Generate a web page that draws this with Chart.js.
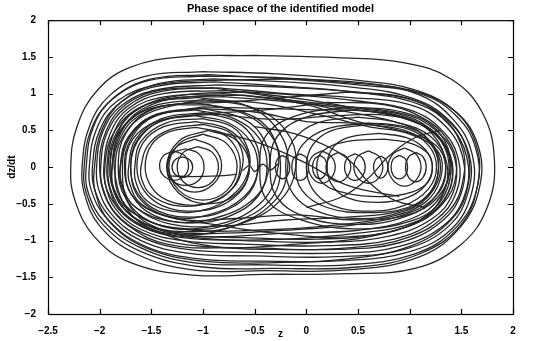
<!DOCTYPE html>
<html>
<head>
<meta charset="utf-8">
<script src="https://cdn.jsdelivr.net/npm/chart.js@4"></script>
<style>
  html, body { margin: 0; padding: 0; background: #fff; }
  #wrap { width: 536px; height: 341px; }
</style>
</head>
<body>
<div id="wrap"><canvas id="phaseChart"></canvas></div>
<script>
// ticks
const zTicks = [-2.5, -2, -1.5, -1, -0.5, 0, 0.5, 1, 1.5, 2];
const vTicks = [-2, -1.5, -1, -0.5, 0, 0.5, 1, 1.5, 2];

// outer orbits round both wells, [z, dz/dt]
const outer1 = [[-2.28,0],[-2.22,0.55],[-2.02,1.05],[-1.7,1.36],[-1.2,1.5],[-0.5,1.52],[0.3,1.49],[0.95,1.42],[1.4,1.2],[1.7,0.75],[1.82,0.1],[1.75,-0.55],[1.5,-1.05],[1.05,-1.38],[0.4,-1.45],[-0.4,-1.46],[-1.1,-1.47],[-1.7,-1.3],[-2.05,-0.95],[-2.24,-0.45],[-2.28,0]];
const outer2 = [[-2.17,0],[-2.1,0.55],[-1.9,0.98],[-1.55,1.24],[-1.0,1.3],[-0.3,1.27],[0.5,1.18],[1.05,1.05],[1.45,0.75],[1.66,0.3],[1.68,-0.25],[1.5,-0.8],[1.1,-1.22],[0.4,-1.4],[-0.4,-1.41],[-1.1,-1.4],[-1.65,-1.18],[-2.0,-0.8],[-2.15,-0.35],[-2.17,0]];
const outer3 = [[-2.13,0],[-2.06,0.55],[-1.86,0.95],[-1.5,1.2],[-0.95,1.26],[-0.2,1.2],[0.5,1.12],[1.1,1.0],[1.45,0.7],[1.64,0.25],[1.65,-0.3],[1.45,-0.82],[1.05,-1.18],[0.4,-1.33],[-0.4,-1.33],[-1.1,-1.3],[-1.6,-1.1],[-1.95,-0.75],[-2.11,-0.35],[-2.13,0]];
const outer4 = [[-2.1,0],[-2.03,0.52],[-1.83,0.9],[-1.45,1.12],[-0.9,1.18],[-0.1,1.2],[0.6,1.14],[1.1,0.98],[1.42,0.65],[1.6,0.2],[1.6,-0.35],[1.4,-0.85],[1.0,-1.15],[0.4,-1.27],[-0.4,-1.28],[-1.1,-1.24],[-1.6,-1.05],[-1.93,-0.7],[-2.08,-0.32],[-2.1,0]];
const outer5 = [[-2.07,0],[-2.0,0.5],[-1.8,0.88],[-1.45,1.1],[-0.9,1.16],[-0.2,1.1],[0.5,1.02],[1.05,0.9],[1.38,0.62],[1.57,0.2],[1.57,-0.32],[1.38,-0.8],[0.95,-1.12],[0.3,-1.22],[-0.5,-1.21],[-1.15,-1.17],[-1.6,-1.0],[-1.9,-0.68],[-2.05,-0.3],[-2.07,0]];
const outer6 = [[-2.03,0],[-1.97,0.48],[-1.78,0.85],[-1.42,1.06],[-0.85,1.12],[-0.1,1.08],[0.6,1.0],[1.1,0.85],[1.38,0.58],[1.55,0.15],[1.54,-0.35],[1.34,-0.78],[0.9,-1.08],[0.3,-1.17],[-0.5,-1.16],[-1.15,-1.12],[-1.6,-0.95],[-1.88,-0.65],[-2.01,-0.3],[-2.03,0]];
const outer7 = [[-1.99,0],[-1.93,0.46],[-1.74,0.82],[-1.4,1.03],[-0.85,1.08],[-0.2,1.0],[0.4,0.95],[1.0,0.85],[1.33,0.58],[1.51,0.15],[1.5,-0.35],[1.3,-0.75],[0.9,-1.03],[0.3,-1.12],[-0.5,-1.1],[-1.15,-1.06],[-1.58,-0.9],[-1.85,-0.62],[-1.97,-0.28],[-1.99,0]];
const outer8 = [[-1.96,0],[-1.9,0.45],[-1.72,0.8],[-1.38,1.0],[-0.8,1.04],[-0.1,0.98],[0.5,0.9],[1.0,0.78],[1.3,0.52],[1.47,0.12],[1.45,-0.35],[1.25,-0.72],[0.85,-0.98],[0.2,-1.07],[-0.6,-1.05],[-1.2,-1.0],[-1.6,-0.85],[-1.84,-0.58],[-1.94,-0.27],[-1.96,0]];
const outer9 = [[-1.93,0],[-1.87,0.44],[-1.7,0.78],[-1.36,0.96],[-0.8,1.0],[-0.2,0.92],[0.4,0.82],[0.95,0.72],[1.27,0.48],[1.44,0.1],[1.42,-0.35],[1.22,-0.7],[0.8,-0.94],[0.2,-1.02],[-0.6,-1.0],[-1.2,-0.96],[-1.58,-0.82],[-1.82,-0.56],[-1.91,-0.26],[-1.93,0]];
const outer10 = [[-1.9,0],[-1.84,0.42],[-1.67,0.75],[-1.34,0.93],[-0.8,0.96],[-0.1,0.88],[0.5,0.78],[0.95,0.66],[1.25,0.44],[1.4,0.08],[1.38,-0.33],[1.18,-0.66],[0.75,-0.9],[0.1,-0.98],[-0.6,-0.96],[-1.2,-0.92],[-1.56,-0.78],[-1.79,-0.53],[-1.88,-0.25],[-1.9,0]];
const outer11 = [[-2.0,0],[-1.94,0.48],[-1.75,0.85],[-1.4,1.05],[-0.9,1.08],[-0.3,0.95],[0.3,0.78],[0.85,0.62],[1.2,0.42],[1.36,0.05],[1.32,-0.38],[1.1,-0.72],[0.6,-0.95],[-0.1,-1.05],[-0.8,-1.1],[-1.35,-1.05],[-1.7,-0.82],[-1.92,-0.48],[-2.0,0]];
const outer12 = [[-1.86,0],[-1.8,0.4],[-1.62,0.7],[-1.3,0.85],[-0.8,0.88],[-0.2,0.95],[0.4,1.02],[0.95,0.95],[1.3,0.7],[1.5,0.3],[1.52,-0.15],[1.38,-0.6],[1.0,-0.95],[0.4,-1.1],[-0.3,-1.12],[-0.9,-1.08],[-1.4,-0.9],[-1.72,-0.6],[-1.86,0]];
const outer13 = [[-2.05,0],[-1.98,0.5],[-1.78,0.9],[-1.42,1.14],[-0.9,1.2],[-0.2,1.16],[0.5,1.08],[1.0,0.95],[1.35,0.68],[1.55,0.25],[1.56,-0.28],[1.4,-0.72],[1.0,-1.08],[0.4,-1.25],[-0.3,-1.3],[-1.0,-1.28],[-1.55,-1.1],[-1.9,-0.75],[-2.04,-0.35],[-2.05,0]];
const outer14 = [[-2.15,0],[-2.08,0.52],[-1.88,0.92],[-1.52,1.18],[-1.0,1.24],[-0.3,1.22],[0.4,1.15],[1.0,1.05],[1.42,0.78],[1.64,0.32],[1.66,-0.22],[1.5,-0.78],[1.1,-1.18],[0.5,-1.36],[-0.3,-1.38],[-1.0,-1.36],[-1.6,-1.15],[-1.97,-0.78],[-2.13,-0.35],[-2.15,0]];

// orbits that cross from one well to the other
const cross1 = [[-1.88,0],[-1.8,0.45],[-1.6,0.78],[-1.2,0.95],[-0.6,0.98],[0.0,0.85],[0.5,0.62],[0.95,0.48],[1.25,0.3],[1.35,0],[1.28,-0.35],[1.0,-0.62],[0.5,-0.78],[-0.1,-0.85],[-0.8,-0.9],[-1.3,-0.88],[-1.65,-0.7],[-1.84,-0.4],[-1.88,0]];
const cross2 = [[-1.85,0],[-1.78,0.4],[-1.55,0.72],[-1.1,0.9],[-0.5,0.88],[0.1,0.72],[0.6,0.55],[1.0,0.45],[1.28,0.2],[1.3,-0.15],[1.15,-0.48],[0.8,-0.68],[0.2,-0.8],[-0.5,-0.86],[-1.1,-0.86],[-1.55,-0.72],[-1.8,-0.42],[-1.85,0]];
const cross3 = [[-1.75,0],[-1.68,0.38],[-1.45,0.62],[-1.0,0.72],[-0.4,0.78],[0.2,0.88],[0.75,0.85],[1.15,0.65],[1.4,0.3],[1.45,-0.1],[1.32,-0.5],[1.0,-0.8],[0.4,-0.95],[-0.3,-0.9],[-0.9,-0.78],[-1.4,-0.65],[-1.68,-0.4],[-1.75,0]];
const cross4 = [[-1.7,0],[-1.62,0.4],[-1.35,0.65],[-0.85,0.72],[-0.3,0.65],[0.3,0.7],[0.8,0.7],[1.2,0.52],[1.38,0.15],[1.33,-0.3],[1.05,-0.62],[0.5,-0.72],[-0.1,-0.65],[-0.7,-0.7],[-1.25,-0.7],[-1.6,-0.45],[-1.7,0]];
const cross5 = [[-1.92,0],[-1.84,0.46],[-1.62,0.8],[-1.2,0.98],[-0.6,1.02],[0.0,0.92],[0.5,0.8],[0.95,0.7],[1.25,0.45],[1.38,0.05],[1.3,-0.4],[1.02,-0.7],[0.5,-0.86],[-0.2,-0.9],[-0.9,-0.95],[-1.4,-0.9],[-1.72,-0.68],[-1.88,-0.36],[-1.92,0]];
const cross6 = [[-1.8,0],[-1.72,0.4],[-1.5,0.68],[-1.05,0.8],[-0.5,0.75],[0.0,0.62],[0.5,0.6],[0.95,0.55],[1.2,0.35],[1.28,0],[1.18,-0.38],[0.9,-0.6],[0.4,-0.68],[-0.2,-0.72],[-0.8,-0.8],[-1.3,-0.78],[-1.65,-0.55],[-1.79,-0.25],[-1.8,0]];
const cross7 = [[-1.78,0],[-1.7,0.42],[-1.45,0.7],[-1.0,0.82],[-0.45,0.8],[0.1,0.78],[0.6,0.76],[1.05,0.62],[1.32,0.35],[1.42,-0.05],[1.33,-0.45],[1.05,-0.75],[0.5,-0.9],[-0.2,-0.98],[-0.9,-0.98],[-1.4,-0.85],[-1.7,-0.55],[-1.78,0]];

// left well
const left1 = [[-1.82,0],[-1.75,0.45],[-1.5,0.78],[-1.1,0.88],[-0.65,0.75],[-0.35,0.45],[-0.25,0],[-0.35,-0.45],[-0.7,-0.75],[-1.1,-0.85],[-1.5,-0.75],[-1.75,-0.42],[-1.82,0]];
const left2 = [[-1.76,0],[-1.69,0.4],[-1.46,0.7],[-1.08,0.78],[-0.7,0.66],[-0.45,0.38],[-0.38,0],[-0.47,-0.4],[-0.75,-0.67],[-1.1,-0.76],[-1.47,-0.66],[-1.69,-0.38],[-1.76,0]];
const left3 = [[-1.7,0],[-1.63,0.36],[-1.42,0.62],[-1.08,0.7],[-0.75,0.6],[-0.53,0.33],[-0.47,0],[-0.55,-0.35],[-0.8,-0.6],[-1.1,-0.68],[-1.43,-0.6],[-1.64,-0.34],[-1.7,0]];
const left4 = [[-1.64,0],[-1.58,0.33],[-1.38,0.55],[-1.07,0.62],[-0.78,0.53],[-0.6,0.3],[-0.55,0],[-0.62,-0.3],[-0.82,-0.52],[-1.1,-0.6],[-1.4,-0.52],[-1.58,-0.3],[-1.64,0]];
const left5 = [[-1.56,0],[-1.5,0.3],[-1.33,0.48],[-1.07,0.54],[-0.82,0.46],[-0.68,0.26],[-0.64,0],[-0.7,-0.26],[-0.86,-0.45],[-1.1,-0.52],[-1.35,-0.45],[-1.5,-0.27],[-1.56,0]];
const left6 = [[-1.9,0.05],[-1.8,0.5],[-1.5,0.82],[-1.0,0.92],[-0.5,0.8],[-0.2,0.5],[-0.1,0.05],[-0.25,-0.45],[-0.65,-0.78],[-1.1,-0.88],[-1.55,-0.78],[-1.82,-0.45],[-1.9,0.05]];
const left7 = [[-1.95,0],[-1.85,0.5],[-1.55,0.85],[-1.05,0.95],[-0.55,0.82],[-0.25,0.45],[-0.18,0],[-0.3,-0.45],[-0.7,-0.8],[-1.2,-0.92],[-1.65,-0.75],[-1.9,-0.4],[-1.95,0]];
const left8 = [[-1.88,0],[-1.8,0.48],[-1.5,0.8],[-0.95,0.85],[-0.5,0.68],[-0.3,0.35],[-0.28,-0.05],[-0.45,-0.5],[-0.85,-0.78],[-1.3,-0.82],[-1.7,-0.6],[-1.86,-0.3],[-1.88,0]];
const left9 = [[-1.8,0.02],[-1.72,0.42],[-1.45,0.72],[-1.0,0.8],[-0.6,0.65],[-0.4,0.35],[-0.36,0],[-0.5,-0.42],[-0.9,-0.7],[-1.3,-0.74],[-1.65,-0.55],[-1.78,-0.25],[-1.8,0.02]];
const left10 = [[-1.72,0],[-1.65,0.38],[-1.4,0.66],[-1.0,0.74],[-0.68,0.62],[-0.5,0.36],[-0.46,0],[-0.6,-0.4],[-0.95,-0.65],[-1.3,-0.68],[-1.6,-0.5],[-1.71,-0.22],[-1.72,0]];
const left11 = [[-1.66,0],[-1.6,0.35],[-1.36,0.6],[-1.0,0.66],[-0.72,0.55],[-0.58,0.3],[-0.55,0],[-0.68,-0.34],[-0.98,-0.58],[-1.3,-0.6],[-1.55,-0.45],[-1.65,-0.2],[-1.66,0]];
const left12 = [[-1.6,0],[-1.52,0.32],[-1.3,0.52],[-1.0,0.58],[-0.75,0.48],[-0.63,0.25],[-0.62,0],[-0.72,-0.3],[-0.98,-0.5],[-1.28,-0.52],[-1.5,-0.38],[-1.59,-0.18],[-1.6,0]];

// circles near the bottom of the left well
const ring1 = [[-1.1,0],[-1.13,0.1],[-1.2,0.14],[-1.27,0.1],[-1.3,0],[-1.27,-0.1],[-1.2,-0.14],[-1.13,-0.1],[-1.1,0]];
const ring2 = [[-0.99,0],[-1.04,0.18],[-1.17,0.25],[-1.3,0.18],[-1.35,0],[-1.3,-0.18],[-1.17,-0.25],[-1.04,-0.18],[-0.99,0]];
const ring3 = [[-0.82,0.02],[-0.9,0.27],[-1.08,0.38],[-1.26,0.27],[-1.34,0.02],[-1.26,-0.23],[-1.08,-0.34],[-0.9,-0.23],[-0.82,0.02]];
const ring4 = [[-0.67,0],[-0.77,0.32],[-1.0,0.45],[-1.23,0.32],[-1.33,0],[-1.23,-0.32],[-1.0,-0.45],[-0.77,-0.32],[-0.67,0]];
const ring5 = [[-0.55,0],[-0.67,0.36],[-0.95,0.5],[-1.23,0.36],[-1.35,0],[-1.23,-0.36],[-0.95,-0.5],[-0.67,-0.36],[-0.55,0]];
const ring6 = [[-1.14,0.02],[-1.18,0.16],[-1.28,0.22],[-1.38,0.16],[-1.42,0.02],[-1.38,-0.12],[-1.28,-0.18],[-1.18,-0.12],[-1.14,0.02]];
const ring7 = [[-0.85,0],[-0.91,0.2],[-1.05,0.28],[-1.19,0.2],[-1.25,0],[-1.19,-0.2],[-1.05,-0.28],[-0.91,-0.2],[-0.85,0]];
const spoke1 = [[-1.32,-0.12],[-1.1,-0.13],[-0.85,-0.12],[-0.68,-0.1]];
const spoke2 = [[-0.62,-0.05],[-0.55,0.02],[-0.5,-0.06],[-0.42,0.04],[-0.35,-0.04],[-0.27,0.05]];

// right well
const right1 = [[-0.35,0],[-0.28,0.42],[0.0,0.68],[0.45,0.78],[0.9,0.7],[1.22,0.45],[1.35,0],[1.22,-0.45],[0.9,-0.7],[0.45,-0.78],[0.0,-0.68],[-0.28,-0.42],[-0.35,0]];
const right2 = [[-0.2,0],[-0.13,0.36],[0.1,0.6],[0.5,0.68],[0.9,0.6],[1.18,0.38],[1.3,0],[1.18,-0.4],[0.9,-0.62],[0.5,-0.7],[0.1,-0.6],[-0.13,-0.36],[-0.2,0]];
const right3 = [[0.0,0],[0.06,0.3],[0.25,0.5],[0.6,0.58],[0.95,0.5],[1.18,0.3],[1.26,0],[1.18,-0.3],[0.95,-0.52],[0.6,-0.6],[0.25,-0.52],[0.06,-0.3],[0.0,0]];
const right4 = [[0.2,0],[0.25,0.25],[0.4,0.4],[0.7,0.46],[0.97,0.4],[1.15,0.24],[1.22,0],[1.15,-0.25],[0.97,-0.42],[0.7,-0.48],[0.4,-0.42],[0.25,-0.25],[0.2,0]];
const right5 = [[-0.45,0],[-0.38,0.45],[-0.05,0.72],[0.45,0.82],[0.95,0.74],[1.28,0.48],[1.4,0],[1.28,-0.5],[0.95,-0.76],[0.45,-0.84],[-0.05,-0.72],[-0.38,-0.45],[-0.45,0]];
const right6 = [[-0.1,0],[-0.04,0.3],[0.2,0.52],[0.6,0.6],[0.98,0.52],[1.2,0.32],[1.28,0],[1.2,-0.34],[0.98,-0.55],[0.6,-0.62],[0.2,-0.55],[-0.04,-0.32],[-0.1,0]];
const right7 = [[0.1,0],[0.16,0.22],[0.4,0.35],[0.75,0.38],[1.02,0.32],[1.18,0.18],[1.22,0],[1.18,-0.2],[1.02,-0.34],[0.75,-0.4],[0.4,-0.36],[0.16,-0.22],[0.1,0]];

// small loops along dz/dt = 0
const loop1 = [[-0.16,0],[-0.18,0.11],[-0.23,0.16],[-0.28,0.11],[-0.3,0],[-0.28,-0.11],[-0.23,-0.16],[-0.18,-0.11],[-0.16,0]];
const loop2 = [[0.02,0],[0.0,0.13],[-0.06,0.18],[-0.12,0.13],[-0.14,0],[-0.12,-0.13],[-0.06,-0.18],[0.0,-0.13],[0.02,0]];
const loop3 = [[0.2,0],[0.18,0.11],[0.13,0.16],[0.08,0.11],[0.06,0],[0.08,-0.11],[0.13,-0.16],[0.18,-0.11],[0.2,0]];
const loop4 = [[0.43,0],[0.39,0.14],[0.31,0.2],[0.23,0.14],[0.19,0],[0.23,-0.14],[0.31,-0.2],[0.39,-0.14],[0.43,0]];
const loop5 = [[0.57,0],[0.54,0.13],[0.47,0.18],[0.4,0.13],[0.37,0],[0.4,-0.13],[0.47,-0.18],[0.54,-0.13],[0.57,0]];
const loop6 = [[0.79,0],[0.77,0.1],[0.72,0.15],[0.67,0.1],[0.65,0],[0.67,-0.1],[0.72,-0.15],[0.77,-0.1],[0.79,0]];
const loop7 = [[0.98,0],[0.96,0.11],[0.9,0.16],[0.84,0.11],[0.82,0],[0.84,-0.11],[0.9,-0.16],[0.96,-0.11],[0.98,0]];
const loop8 = [[1.16,0],[1.13,0.14],[1.06,0.2],[0.99,0.14],[0.96,0],[0.99,-0.14],[1.06,-0.2],[1.13,-0.14],[1.16,0]];
const loop9 = [[0.74,0],[0.7,0.15],[0.6,0.22],[0.5,0.15],[0.46,0],[0.5,-0.15],[0.6,-0.22],[0.7,-0.15],[0.74,0]];
const loop10 = [[1.11,0],[1.06,0.18],[0.95,0.26],[0.84,0.18],[0.79,0],[0.84,-0.18],[0.95,-0.26],[1.06,-0.18],[1.11,0]];
const loop11 = [[0.28,0],[0.24,0.15],[0.15,0.22],[0.06,0.15],[0.02,0],[0.06,-0.15],[0.15,-0.22],[0.24,-0.15],[0.28,0]];

// arcs sweeping through the right well
const sweep1 = [[-0.5,0.55],[-0.1,0.45],[0.25,0.25],[0.45,0.05],[0.6,-0.2],[0.85,-0.45],[1.15,-0.55]];
const sweep2 = [[0.0,-0.55],[0.35,-0.4],[0.6,-0.15],[0.8,0.15],[1.05,0.4],[1.3,0.5]];
const sweep3 = [[-0.9,0.5],[-0.4,0.3],[0.0,0.05],[0.4,-0.25],[0.9,-0.4]];

const orbits = [
  outer1, outer2, outer3, outer4, outer5, outer6, outer7, outer8, outer9, outer10,
  outer11, outer12, outer13, outer14,
  cross1, cross2, cross3, cross4, cross5, cross6, cross7,
  left1, left2, left3, left4, left5, left6, left7, left8, left9, left10, left11, left12,
  ring1, ring2, ring3, ring4, ring5, ring6, ring7, spoke1, spoke2,
  right1, right2, right3, right4, right5, right6, right7,
  loop1, loop2, loop3, loop4, loop5, loop6, loop7, loop8, loop9, loop10, loop11,
  sweep1, sweep2, sweep3
];

// closed orbits: start the path at the top so the seam sits where the curve is flat
function fromTop(o) {
  const a = o[0], b = o[o.length - 1];
  if (a[0] !== b[0] || a[1] !== b[1]) return o;
  const pts = o.slice(0, -1);
  let k = 0;
  pts.forEach((p, i) => { if (p[1] > pts[k][1]) k = i; });
  return pts.slice(k).concat(pts.slice(0, k), [pts[k]]);
}

const fmt = (v) => (v < 0 ? '\u2212' + Math.abs(v) : String(v));

// box round the plot and inward tick marks on all four sides (matlab look)
const boxTicks = {
  id: 'boxTicks',
  afterDraw(chart) {
    const { ctx, chartArea: a, scales } = chart;
    ctx.save();
    ctx.strokeStyle = '#000';
    ctx.lineWidth = 1.2;
    ctx.strokeRect(a.left + 0.5, a.top + 0.5, a.right - a.left, a.bottom - a.top);
    ctx.beginPath();
    zTicks.forEach(t => {
      const x = Math.round(scales.x.getPixelForValue(t)) + 0.5;
      ctx.moveTo(x, a.bottom); ctx.lineTo(x, a.bottom - 5);
      ctx.moveTo(x, a.top); ctx.lineTo(x, a.top + 5);
    });
    vTicks.forEach(t => {
      const y = Math.round(scales.y.getPixelForValue(t)) + 0.5;
      ctx.moveTo(a.left, y); ctx.lineTo(a.left + 5, y);
      ctx.moveTo(a.right, y); ctx.lineTo(a.right - 5, y);
    });
    ctx.stroke();
    ctx.restore();
  }
};

Chart.defaults.font.family = '"Liberation Sans", Arial, sans-serif';
Chart.defaults.font.size = 10;
Chart.defaults.font.weight = 'bold';
Chart.defaults.color = '#000';

new Chart(document.getElementById('phaseChart'), {
  type: 'scatter',
  data: {
    datasets: orbits.map(o => ({
      data: fromTop(o).map(p => ({ x: p[0], y: p[1] })),
      showLine: true,
      borderColor: '#262626',
      borderWidth: 1.3,
      pointRadius: 0,
      tension: 0.4,
      fill: false
    }))
  },
  options: {
    responsive: true,
    maintainAspectRatio: false,
    animation: false,
    layout: { padding: { top: 0, right: 23, bottom: 0, left: 0 } },
    scales: {
      x: {
        type: 'linear',
        min: -2.5,
        max: 2,
        afterBuildTicks: (s) => { s.ticks = zTicks.map(v => ({ value: v })); },
        afterFit: (s) => { s.height = 27; },
        grid: { display: false },
        border: { display: false },
        ticks: { padding: 3, maxRotation: 0, autoSkip: false, callback: fmt, font: { size: 10, weight: 'bold' } },
        title: { display: true, text: 'z', padding: { top: 0, bottom: 1 }, font: { size: 10, weight: 'bold' } }
      },
      y: {
        type: 'linear',
        min: -2,
        max: 2,
        afterBuildTicks: (s) => { s.ticks = vTicks.map(v => ({ value: v })); },
        afterFit: (s) => { s.width = 48; },
        grid: { display: false },
        border: { display: false },
        ticks: { padding: 4, autoSkip: false, callback: fmt, font: { size: 10, weight: 'bold' } },
        title: { display: true, text: 'dz/dt', padding: { top: 6, bottom: 0 }, font: { size: 10, weight: 'bold' } }
      }
    },
    plugins: {
      legend: { display: false },
      tooltip: { enabled: false },
      title: {
        display: true,
        fullSize: false,
        text: 'Phase space of the identified model',
        font: { size: 11, weight: 'bold' },
        padding: { top: 2, bottom: 5 }
      }
    }
  },
  plugins: [boxTicks]
});
</script>
</body>
</html>
